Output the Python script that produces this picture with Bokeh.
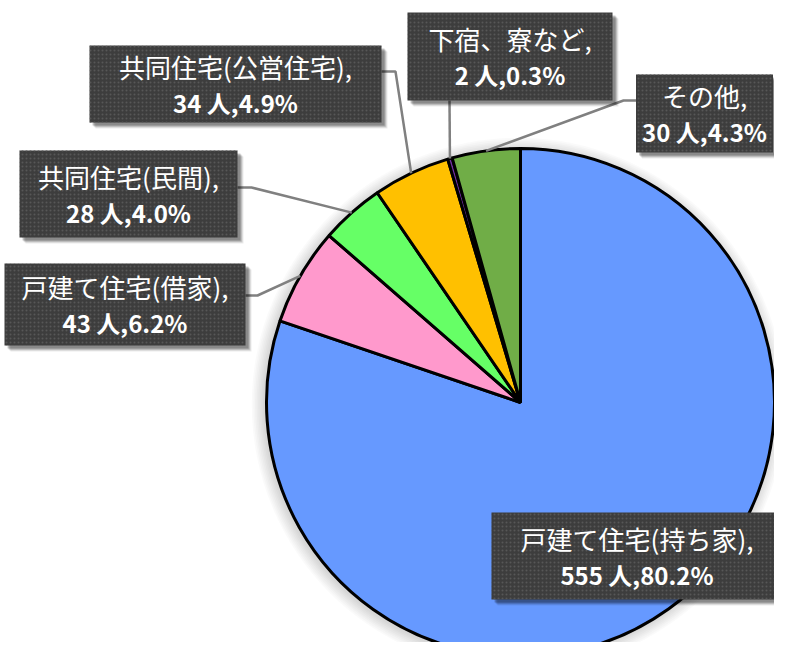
import math
import numpy as np
from bokeh.plotting import figure
from bokeh.models import Range1d, ColumnDataSource
from bokeh.core.properties import value
from bokeh.embed import file_html
from bokeh.resources import INLINE

# ---- data ----
categories = ["戸建て住宅(持ち家)", "戸建て住宅(借家)", "共同住宅(民間)",
              "共同住宅(公営住宅)", "下宿、寮など", "その他"]
counts = [555, 43, 28, 34, 2, 30]
colors = ["#6699FF", "#FF99CC", "#66FF66", "#FFC000", "#7030A0", "#70AD47"]

# ---- layout (pixel coords, y downward) ----
W, H = 774, 642
DX = -6
def Y(v):
    return H - v

CX, CY, R = 526 + DX, 402, 254
# label boxes: center x, center y, width, height
box_cx = [c + DX for c in [642.5, 130.5, 134, 241, 515.5, 710]]
box_cy = [555.5, 304, 193.5, 83.5, 56, 113]
box_w = [291, 241, 218, 292, 205, 137]
box_h = [87, 82, 87, 77, 88, 78]
# leader line start points and elbows (None = no leader)
leader_pts = [None,
              [(251, 295), (263, 295)],
              [(243, 187), (257, 187)],
              [(387, 71), (401, 71)],
              [(455, 100)],
              [(642, 100), (629, 100)]]

total = sum(counts)
cum = np.concatenate([[0], np.cumsum(counts)])
start = [math.pi / 2 - 2 * math.pi * cum[i] / total for i in range(len(counts))]
end = [math.pi / 2 - 2 * math.pi * cum[i + 1] / total for i in range(len(counts))]
mid = [(s + e) / 2 for s, e in zip(start, end)]
pcts = [100 * c / total for c in counts]

p = figure(width=W, height=H, x_range=Range1d(0, W), y_range=Range1d(0, H),
           output_backend="svg", toolbar_location=None, min_border=0)
p.axis.visible = False
p.grid.visible = False
p.outline_line_color = None
p.background_fill_color = "white"

# soft glow around pie
for k in range(1, 9):
    p.circle(x=[CX - 2], y=[Y(CY) - 2], radius=R + k * 1.6, fill_color="black",
             fill_alpha=0.02, line_color=None)

src = ColumnDataSource(dict(start=start, end=end, color=colors))
p.wedge(x=CX, y=Y(CY), radius=R, start_angle="start", end_angle="end",
        direction="clock", fill_color="color", line_color="black", line_width=3,
        source=src)

# leader lines
for i, pts in enumerate(leader_pts):
    if pts is None:
        continue
    ex = CX + R * math.cos(mid[i])
    ey = Y(CY) + R * math.sin(mid[i])
    xs = [q[0] + DX for q in pts] + [ex]
    ys = [Y(q[1]) for q in pts] + [ey]
    p.line(xs, ys, line_color="#808080", line_width=2.5)

# label boxes with shadows
for off, a in [(6, 0.08), (5, 0.12), (4, 0.16), (3, 0.2)]:
    p.rect(x=[c + off for c in box_cx], y=[Y(c) - off for c in box_cy],
           width=box_w, height=box_h, fill_color="black", fill_alpha=a,
           line_color=None)
p.rect(x=box_cx, y=[Y(c) for c in box_cy], width=box_w, height=box_h,
       fill_color="#3d3d3d", line_color=None,
       hatch_pattern="dot", hatch_color="#575757", hatch_scale=4, hatch_weight=1)

line1 = [f"{c}," for c in categories]
line2 = [f"{n} 人,{v:.1f}%" for n, v in zip(counts, pcts)]
p.text(x=box_cx, y=[Y(c) + 18 for c in box_cy], text=line1, text_color="white",
       text_font=value("Noto Sans CJK JP"), text_font_size="26px",
       text_align="center", text_baseline="middle")
p.text(x=box_cx, y=[Y(c) - 18 for c in box_cy], text=line2, text_color="white",
       text_font=value("Noto Sans CJK JP"), text_font_size="24px",
       text_font_style="bold", text_align="center", text_baseline="middle")

open("out.html", "w").write(file_html(p, INLINE))
